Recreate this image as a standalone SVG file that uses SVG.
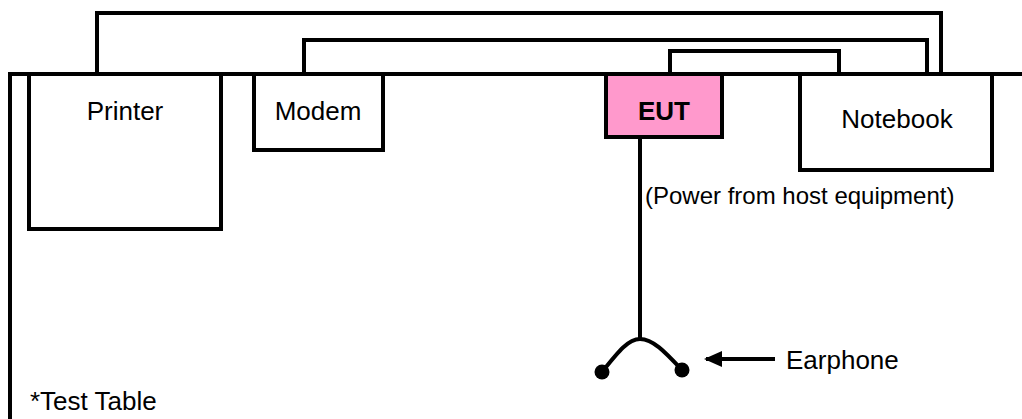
<svg xmlns="http://www.w3.org/2000/svg" width="1022" height="419" viewBox="0 0 1022 419">
<style>
.ln{fill:none;stroke:#000;stroke-width:4}
.box{fill:#fff;stroke:#000;stroke-width:4}
.t{font-family:"Liberation Sans",Arial,sans-serif;font-size:26px;fill:#000}
.s{font-family:"Liberation Sans",Arial,sans-serif;font-size:24px;fill:#000}
</style>
<defs>
<marker id="ah" markerWidth="18" markerHeight="16" refX="16" refY="8" orient="auto" markerUnits="userSpaceOnUse">
<path d="M0,0 L18,8 L0,16 Z" fill="#000"/>
</marker>
</defs>
<rect width="1022" height="419" fill="#fff"/>
<g id="connectors">
<path class="ln" d="M97,74 V13 H941 V74"/>
<path class="ln" d="M304,74 V40 H927 V74"/>
<path class="ln" d="M670,74 V51 H839 V74"/>
<path class="ln" d="M640,137 V340"/>
<path class="ln" d="M602,372 C618,352 628,339 640,339 C653,339 665,352 682,370"/>
<path class="ln" d="M775,359 H706" marker-end="url(#ah)"/>
</g>
<g id="table">
<path class="ln" d="M10,419 V74 H1022"/>
<text class="t" x="30" y="410">*Test Table</text>
</g>
<g id="printer">
<rect class="box" x="29" y="74" width="192" height="155"/>
<text class="t" x="125" y="120" text-anchor="middle">Printer</text>
</g>
<g id="modem">
<rect class="box" x="254" y="74" width="129" height="76"/>
<text class="t" x="318" y="120" text-anchor="middle">Modem</text>
</g>
<g id="eut">
<rect x="606" y="74" width="116" height="63" fill="#FF99CC" stroke="#000" stroke-width="4"/>
<text class="t" x="664" y="120" text-anchor="middle" font-weight="bold">EUT</text>
</g>
<g id="notebook">
<rect class="box" x="800" y="74" width="192" height="96"/>
<text class="t" x="897" y="128" text-anchor="middle">Notebook</text>
</g>
<g id="power-note">
<text class="s" x="645" y="204">(Power from host equipment)</text>
</g>
<g id="earphone">
<circle cx="602" cy="372" r="7.5" fill="#000"/>
<circle cx="682" cy="370" r="7.5" fill="#000"/>
<text class="t" x="786" y="369">Earphone</text>
</g>
</svg>
